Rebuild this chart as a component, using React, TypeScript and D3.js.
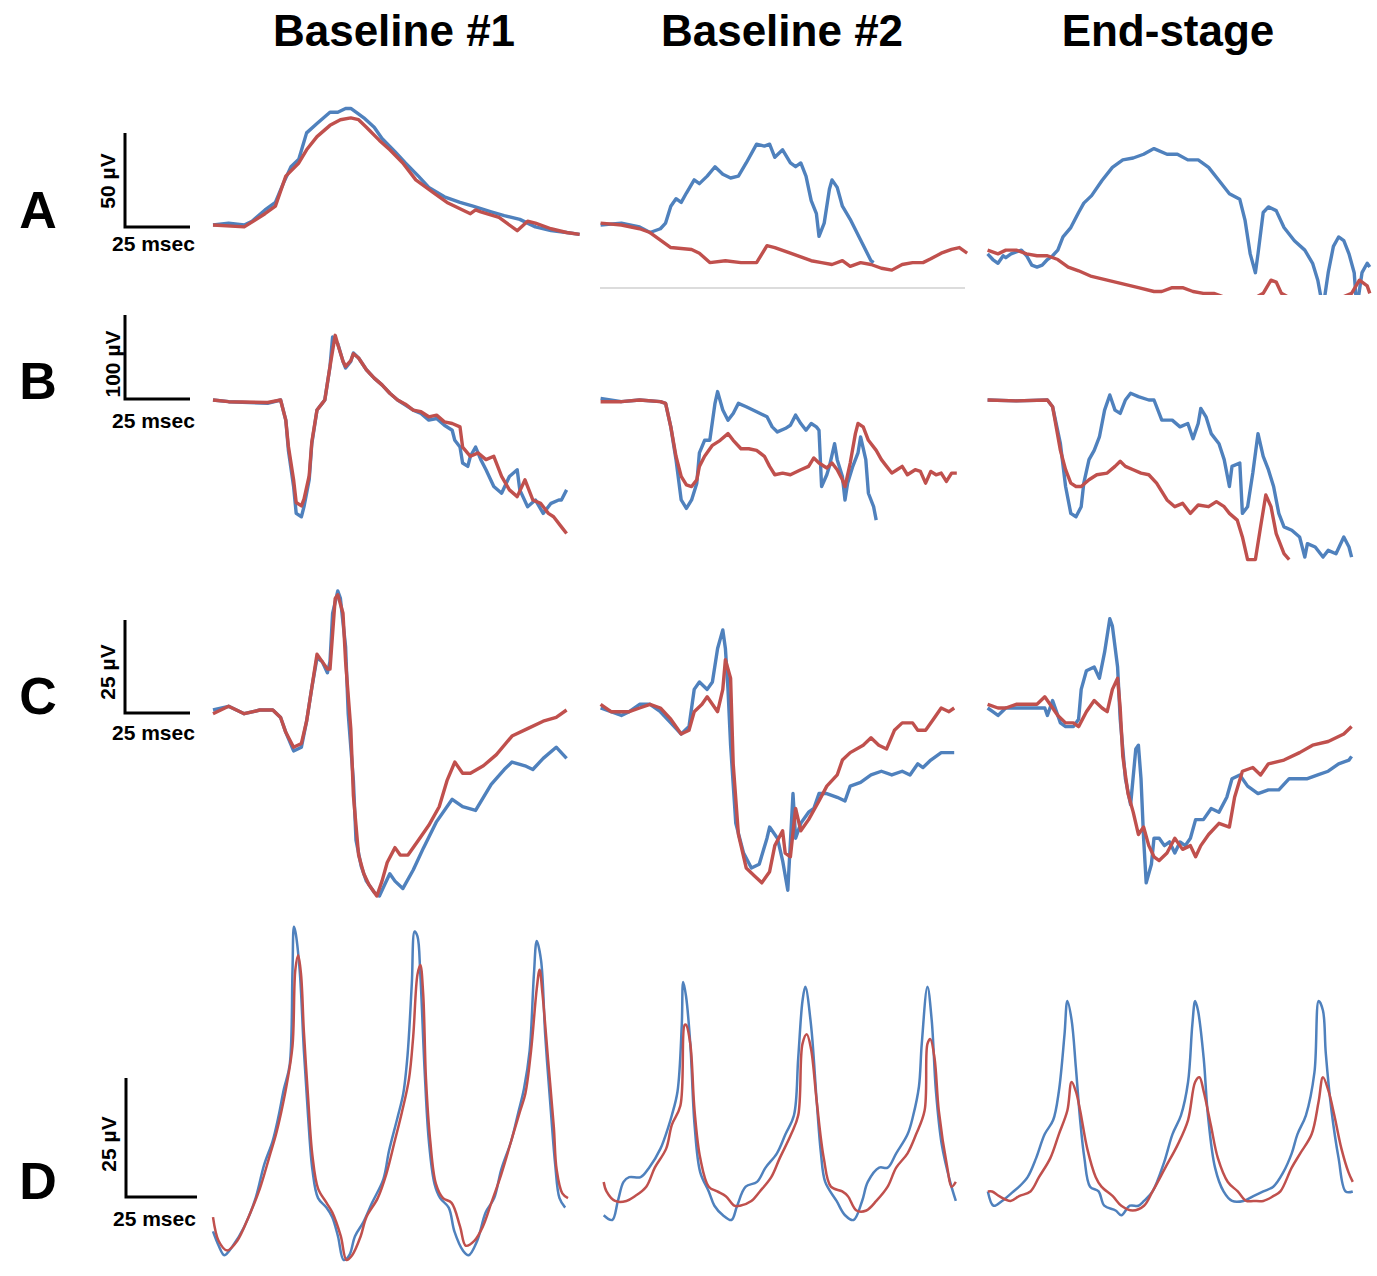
// @ts-nocheck
import React from 'react'
import * as d3 from 'd3'

// column / row labels
const columnTitles = ['Baseline #1', 'Baseline #2', 'End-stage']
const rowLetters = ['A', 'B', 'C', 'D']
const barMicroVolts = [50, 100, 25, 25]
const barMsec = 25

// traces: [time in ms, amplitude in µV]
const a1Blue = [[0,0],[6,1],[12,0],[15,2],[20,8],[24,12],[27,22],[30,31],[33,35],[36,49],[40,54],[45,60],[48,60],[51,62],[53,62],[55,60],[58,57],[62,52],[65,46],[70,39],[74,33],[79,26],[83,20],[89,15],[95,12],[100,10],[107,7],[112,5],[118,3],[124,-1],[130,-3],[136,-4],[141,-5]]
const a1Red = [[0,0],[12,-1],[20,6],[24,10],[28,26],[33,33],[36,40],[40,47],[45,53],[49,56],[53,57],[56,56],[59,52],[64,45],[68,40],[73,33],[78,24],[85,17],[90,12],[96,8],[99,6],[101,8],[103,7],[110,4],[117,-3],[121,2],[124,1],[130,-2],[136,-4],[141,-5]]
const a2Blue = [[1,0],[9,1],[16,-1],[20,-4],[24,-2],[26,1],[28,10],[30,14],[32,12],[34,17],[37,24],[39,22],[42,26],[45,31],[48,27],[51,25],[54,26],[57,33],[61,43],[64,42],[66,43],[68,36],[71,40],[74,33],[76,31],[78,33],[80,26],[82,13],[84,6],[85,-6],[87,1],[89,19],[90,24],[92,20],[94,10],[97,3],[101,-8],[105,-19],[106,-20]]
const a2Red = [[1,1],[9,0],[16,-2],[20,-4],[24,-8],[28,-12],[36,-13],[39,-15],[43,-20],[49,-19],[55,-20],[61,-20],[65,-11],[68,-12],[74,-15],[78,-17],[82,-19],[86,-20],[90,-21],[94,-19],[97,-22],[101,-20],[105,-21],[109,-23],[113,-24],[117,-21],[121,-20],[125,-20],[128,-18],[132,-15],[136,-13],[139,-12],[142,-15]]
const a3Blue = [[1,-1],[3,-4],[5,-6],[7,-2],[8,-3],[10,-1],[12,0],[14,1],[16,-2],[18,-7],[20,-8],[22,-7],[24,-4],[26,-2],[28,1],[30,8],[33,13],[36,21],[38,26],[41,30],[45,38],[49,45],[53,49],[57,50],[61,52],[65,55],[70,52],[74,52],[78,49],[82,49],[86,45],[90,38],[94,31],[98,28],[100,17],[102,-1],[104,-11],[105,-1],[107,21],[109,24],[112,22],[115,13],[119,6],[123,1],[126,-6],[128,-15],[130,-30],[132,-11],[134,3],[136,8],[138,6],[140,-1],[142,-11],[143,-30],[145,-11],[147,-6],[148,-8]]
const a3Red = [[1,1],[5,-1],[8,1],[12,1],[16,-1],[20,-2],[24,-2],[28,-4],[32,-8],[36,-10],[41,-13],[47,-15],[53,-17],[59,-19],[65,-21],[68,-21],[72,-19],[76,-19],[80,-21],[84,-22],[88,-22],[92,-24],[97,-25],[103,-25],[107,-22],[110,-15],[112,-16],[114,-22],[118,-25],[126,-26],[134,-26],[141,-22],[144,-15],[147,-18],[148,-22]]

const b1Blue = [[0,0],[6,-2],[21,-4],[26,0],[28,-24],[29,-60],[31,-103],[32,-135],[34,-139],[35,-127],[37,-95],[38,-52],[40,-12],[42,-4],[43,0],[45,40],[46,75],[48,67],[50,46],[51,38],[53,46],[54,56],[56,50],[59,36],[62,26],[65,18],[68,8],[71,0],[74,-6],[77,-12],[80,-16],[83,-24],[86,-22],[89,-30],[92,-36],[93,-48],[95,-56],[96,-75],[98,-79],[99,-67],[101,-56],[103,-71],[105,-83],[108,-103],[111,-111],[114,-91],[117,-83],[118,-107],[121,-127],[124,-119],[127,-135],[130,-123],[133,-119],[134,-119],[136,-107]]
const b1Red = [[0,0],[6,-2],[21,-3],[26,0],[28,-24],[29,-55],[31,-95],[32,-122],[34,-126],[35,-118],[37,-90],[38,-50],[40,-12],[42,-4],[43,0],[45,40],[47,77],[48,66],[50,46],[51,40],[53,47],[54,55],[56,50],[59,36],[62,26],[65,18],[68,8],[71,0],[74,-5],[77,-12],[80,-14],[83,-20],[86,-18],[89,-26],[92,-28],[95,-32],[96,-56],[99,-67],[102,-63],[105,-71],[108,-67],[111,-91],[114,-107],[117,-115],[120,-95],[123,-119],[126,-123],[129,-135],[131,-139],[134,-151],[136,-159]]
const b2Blue = [[1,2],[9,-2],[16,0],[24,-2],[26,-4],[28,-32],[30,-71],[32,-119],[34,-129],[36,-119],[38,-99],[39,-63],[41,-48],[43,-48],[45,-4],[46,10],[48,-12],[50,-24],[52,-16],[54,-4],[57,-8],[61,-14],[65,-20],[67,-32],[69,-38],[72,-34],[74,-30],[76,-18],[78,-28],[80,-36],[82,-28],[84,-32],[85,-36],[86,-103],[88,-89],[89,-79],[91,-52],[92,-71],[94,-91],[95,-119],[96,-99],[98,-79],[100,-63],[101,-44],[103,-71],[104,-111],[106,-127],[107,-143]]
const b2Red = [[1,-2],[9,-2],[16,0],[24,-2],[26,-4],[28,-32],[30,-67],[32,-91],[34,-101],[36,-103],[38,-95],[39,-79],[41,-67],[44,-54],[47,-48],[50,-40],[52,-48],[55,-58],[58,-58],[61,-60],[64,-67],[66,-79],[68,-89],[71,-87],[74,-89],[78,-83],[81,-79],[83,-69],[85,-75],[88,-81],[90,-75],[92,-83],[94,-95],[95,-103],[97,-75],[99,-40],[100,-28],[102,-32],[104,-48],[107,-60],[109,-71],[111,-79],[113,-87],[115,-83],[117,-79],[119,-89],[122,-83],[124,-85],[126,-99],[128,-85],[130,-89],[132,-87],[134,-97],[136,-87],[138,-87]]
const b3Blue = [[1,0],[12,-1],[24,0],[26,-8],[29,-52],[31,-103],[33,-135],[35,-139],[37,-127],[38,-99],[40,-71],[42,-60],[44,-44],[46,-12],[48,6],[50,-12],[52,-16],[54,0],[56,8],[59,4],[63,0],[65,0],[68,-24],[72,-24],[75,-32],[78,-28],[80,-46],[82,-28],[83,-10],[85,-20],[87,-40],[90,-52],[92,-71],[94,-103],[95,-79],[98,-75],[99,-135],[101,-127],[103,-87],[105,-40],[107,-67],[109,-83],[111,-103],[113,-135],[115,-151],[118,-155],[121,-163],[123,-187],[124,-171],[127,-175],[130,-187],[132,-179],[135,-183],[138,-163],[140,-175],[141,-187]]
const b3Red = [[1,0],[12,-1],[24,0],[26,-8],[29,-60],[31,-83],[33,-99],[35,-103],[37,-103],[40,-95],[43,-89],[47,-87],[50,-79],[52,-73],[54,-79],[57,-83],[60,-87],[63,-89],[66,-99],[70,-119],[73,-127],[76,-123],[79,-135],[82,-125],[86,-127],[89,-121],[92,-127],[94,-135],[97,-143],[99,-163],[101,-190],[104,-190],[106,-151],[108,-113],[110,-127],[112,-159],[115,-183],[117,-190]]

const c1Blue = [[0,0],[6,1],[12,-1],[18,0],[23,0],[26,-2],[28,-6],[31,-11],[34,-10],[36,-3],[38,6],[40,14],[42,13],[44,10],[45,13],[46,26],[48,32],[49,30],[51,17],[52,-1],[54,-19],[55,-35],[57,-42],[59,-46],[62,-49],[64,-50],[66,-47],[68,-44],[70,-46],[73,-48],[77,-43],[81,-37],[86,-30],[92,-24],[96,-26],[101,-27],[107,-20],[112,-16],[115,-14],[120,-15],[123,-16],[127,-13],[132,-10],[136,-13]]
const c1Red = [[0,-1],[6,1],[12,-1],[18,0],[23,0],[26,-2],[28,-6],[31,-10],[34,-9],[36,-3],[38,6],[40,15],[42,13],[44,11],[45,11],[47,30],[48,31],[50,26],[51,13],[53,-5],[54,-23],[56,-39],[58,-44],[60,-47],[63,-50],[65,-46],[67,-41],[70,-37],[72,-39],[75,-39],[79,-35],[83,-31],[87,-26],[90,-19],[93,-14],[96,-17],[99,-17],[104,-15],[109,-12],[115,-7],[121,-5],[127,-3],[132,-2],[136,0]]
const c2Blue = [[1,0],[5,-1],[9,-2],[12,-1],[16,1],[20,1],[24,-1],[28,-4],[32,-7],[35,-5],[37,5],[39,7],[42,5],[44,7],[46,16],[48,21],[49,16],[50,5],[51,-10],[53,-31],[56,-39],[59,-43],[62,-42],[65,-35],[66,-32],[69,-35],[71,-41],[73,-49],[75,-23],[76,-35],[78,-31],[81,-28],[83,-27],[85,-23],[88,-23],[92,-24],[95,-25],[97,-21],[101,-20],[105,-18],[109,-17],[113,-18],[117,-17],[120,-18],[123,-15],[125,-16],[128,-14],[132,-12],[135,-12],[137,-12]]
const c2Red = [[1,1],[5,-1],[9,-1],[12,-1],[16,0],[20,1],[24,0],[28,-3],[32,-7],[35,-6],[37,-1],[40,1],[42,3],[44,1],[46,-1],[48,5],[49,13],[51,8],[52,-15],[54,-34],[57,-43],[60,-45],[63,-47],[66,-44],[68,-37],[71,-33],[72,-39],[74,-40],[76,-27],[78,-33],[81,-30],[85,-25],[88,-21],[92,-18],[94,-14],[97,-12],[102,-10],[105,-8],[108,-10],[111,-11],[114,-6],[117,-4],[121,-4],[123,-6],[126,-6],[129,-3],[132,0],[135,-1],[137,0]]
const c3Blue = [[1,0],[3,-1],[5,-2],[8,0],[12,0],[16,0],[20,0],[23,0],[24,-2],[26,2],[29,-4],[31,-5],[34,-5],[36,-3],[37,5],[39,10],[42,11],[44,8],[46,15],[48,24],[49,22],[51,11],[52,-3],[54,-19],[56,-26],[58,-11],[59,-10],[60,-19],[61,-35],[62,-47],[64,-42],[65,-35],[67,-35],[69,-37],[71,-36],[73,-39],[75,-36],[77,-37],[79,-35],[81,-30],[84,-30],[87,-27],[90,-28],[93,-24],[95,-19],[98,-18],[101,-21],[105,-23],[109,-22],[113,-22],[117,-19],[121,-19],[124,-19],[128,-18],[132,-17],[136,-15],[140,-14],[141,-13]]
const c3Red = [[1,1],[5,0],[8,0],[12,1],[16,1],[20,1],[23,3],[25,1],[28,-2],[31,-4],[34,-4],[36,-5],[39,-1],[42,2],[45,0],[47,-1],[49,5],[51,8],[52,0],[53,-13],[55,-23],[57,-28],[59,-34],[61,-32],[63,-37],[65,-40],[67,-41],[70,-39],[73,-35],[76,-38],[79,-37],[81,-40],[83,-37],[86,-34],[90,-31],[94,-32],[96,-24],[99,-17],[103,-16],[106,-18],[109,-15],[115,-14],[121,-12],[126,-10],[132,-9],[138,-7],[141,-5]]

const d1Blue = [[0,6],[2,3],[4,1],[7,3],[11,7],[15,13],[18,20],[21,25],[23,30],[25,36],[27,41],[28,61],[28.5,70],[29,69],[30.5,61],[32,44],[33.5,30],[35,19],[37,13],[40,11],[42,9],[44,5],[46,0],[48,1],[50,5],[53,8],[56,12],[60,17],[62,23],[65,30],[67,35],[68.5,43],[70,58],[71,69],[72,68],[73,60],[74.5,40],[76,25],[78,16],[80,13],[83,11],[85,6],[88,2],[90,1],[93,4],[96,10],[99,13],[101.5,19],[105,25],[107.5,31],[109.5,36],[111.5,44],[113,60],[114,67],[115.5,63],[117,47],[119,31],[120.5,20],[122,13],[124,11]]
const d1Red = [[0,9],[2,4],[5,2],[8.5,4],[12.5,9],[16.5,15],[20,22],[22,26],[24,31],[26,37],[28,45],[29,61],[30,64],[31,60],[32,48],[33.5,34],[35,22],[37,15],[40,12],[42,10],[45,5],[47,0],[49,1],[52,5],[54,9],[58,13],[61,18],[64,25],[66.5,31],[69,38],[70.5,47],[72,60],[73,62],[74,56],[75,38],[76.5,25],[78.5,16],[81,13],[84,12],[87,7],[89,3],[92,4],[95,7],[98,12],[101.5,18],[105,25],[108,31],[110,35],[112,44],[114,57],[115,61],[116,56],[118,42],[120,28],[121,19],[123,14],[125,13]]
const d2Blue = [[2,1],[5,0],[7,4],[9,8],[11,9],[15,9],[18,11],[22,15],[25,20],[26,22],[28,27],[29.5,41],[30,50],[31,47],[32.5,37],[34,20],[36,10],[39,6],[41,3],[44,1],[47,0],[49,3],[52,7],[56,8],[59,11],[63,14],[66,18],[69,22],[70.5,34],[72,46],[73,49],[75,41],[77,25],[78.5,14],[80,8],[84,4],[87,1],[90,0],[93,4],[95,8],[99,11],[102,11],[105,14],[109,18],[111,22],[113,28],[114,37],[116,49],[117.5,42],[119,27],[121,16],[124,8],[126,4]]
const d2Red = [[2,8],[3,6],[6,4],[10,4],[13,5],[17,7],[20,11],[24,15],[26,20],[29,24],[30.5,41],[31,41],[32.5,37],[34,23],[36,13],[39,7],[42,6],[45,5],[48,3],[50,3],[54,4],[57,6],[61,9],[64,13],[68,18],[70.5,22],[72,37],[73.5,39],[75,36],[77,25],[79.5,13],[82,7],[86,6],[88,5],[91,2],[94.5,2],[98,4],[102,7],[105,11],[109,14],[112,18],[115,23],[116,37],[117,38],[118.5,34],[120,23],[123,11],[124.5,7],[126,8]]
const d3Blue = [[1,6],[3,3],[6,4],[10,6],[12,7],[15,9],[18,13],[21,18],[24,21],[26,27],[28,39],[29,46],[30.5,42],[32,32],[33.5,21],[35,13],[37,7],[40,6],[42,3],[46,2],[48,1],[51,3],[54,3],[56,4],[59,6],[63,12],[66,18],[69,22],[71.5,29],[73,41],[74,46],[75,44],[77,34],[78.5,22],[81,11],[84,6],[87,4],[91,4],[94.5,5],[98,6],[101.5,7],[105,10],[108,14],[110,18],[113,22],[116,31],[117.5,46],[119,44],[120,35],[122,23],[124.5,13],[127,6],[129.5,6]]
const d3Red = [[1,6],[2.5,6],[5,5],[9,4],[12,5],[16,6],[19,9],[23,13],[26,18],[29,23],[30.5,29],[32,27],[33.5,23],[36,15],[39,9],[41,7],[45,5],[48,3],[52,2],[56,3],[59,6],[63.5,11],[68,16],[71.5,21],[74,29],[75.5,30],[77,27],[79.5,20],[82,13],[85.5,8],[89,6],[92,4],[94.5,4],[98,4],[101.5,5],[104,6],[108,11],[111,14],[115,18],[117.5,25],[119,30],[121,27],[123,22],[125.5,15],[128,10],[129.5,8]]

const traces = [
  [[a1Blue, a1Red], [a2Blue, a2Red], [a3Blue, a3Red]],
  [[b1Blue, b1Red], [b2Blue, b2Red], [b3Blue, b3Red]],
  [[c1Blue, c1Red], [c2Blue, c2Red], [c3Blue, c3Red]],
  [[d1Blue, d1Red], [d2Blue, d2Red], [d3Blue, d3Red]],
]

const BLUE = '#4F81BD'
const RED = '#C0504D'
const FONT = 'Liberation Sans, Arial, sans-serif'

// page layout
const colX = [213, 598, 985]
const titleX = [394, 782, 1168]
const rowLayout = [
  { pxMs: 2.6, pxUV: 1.88, base: [225, 225, 252], barX: 125, barY: 227, msecY: 251, uvY: 181, uvX: 115, letterY: 228, clipY: [60, 300], lw: 3.4 },
  { pxMs: 2.6, pxUV: 0.84, base: [400, 400, 400], barX: 125, barY: 399, msecY: 428, uvY: 364, uvX: 120, letterY: 399, clipY: [300, 580], lw: 3.4 },
  { pxMs: 2.6, pxUV: 3.72, base: [710, 708, 708], barX: 125, barY: 713, msecY: 740, uvY: 672, uvX: 115, letterY: 714, clipY: [580, 900], lw: 3.4 },
  { pxMs: 2.84, pxUV: 4.76, base: [1260, 1220, 1220], barX: 126, barY: 1197, msecY: 1226, uvY: 1144, uvX: 116, letterY: 1199, clipY: [900, 1276], lw: 2.5 },
]
const clipRight = [585, 968, 1372]

const App = () => {
  return (
    <svg
      width={1377}
      height={1276}
      style={{ position: 'absolute', left: 0, top: 0, background: '#fff' }}
      fontFamily={FONT}
    >
      <defs>
        {rowLayout.map((r, ri) =>
          colX.map((x0, ci) => (
            <clipPath id={`clip-${ri}-${ci}`} key={`${ri}-${ci}`}>
              <rect
                x={x0 - 4}
                y={r.clipY[0]}
                width={clipRight[ci] - x0 + 4}
                height={(ri === 0 && ci === 2 ? 295 : r.clipY[1]) - r.clipY[0]}
              />
            </clipPath>
          ))
        )}
      </defs>

      {columnTitles.map((t, i) => (
        <text key={t} x={titleX[i]} y={46} textAnchor="middle" fontSize={44} fontWeight="bold">
          {t}
        </text>
      ))}

      {/* faint rule under Baseline #2, row A */}
      <line x1={600} x2={965} y1={288} y2={288} stroke="#dcdcdc" strokeWidth={2} />

      {rowLayout.map((r, ri) => {
        const barH = barMicroVolts[ri] * r.pxUV
        const barW = barMsec * r.pxMs
        return (
          <g key={rowLetters[ri]}>
            <text x={38} y={r.letterY} textAnchor="middle" fontSize={52} fontWeight="bold">
              {rowLetters[ri]}
            </text>
            <path
              d={`M${r.barX},${r.barY - barH}V${r.barY}H${r.barX + barW}`}
              fill="none"
              stroke="#000"
              strokeWidth={3}
            />
            <text
              transform={`translate(${r.uvX},${r.uvY}) rotate(-90)`}
              textAnchor="middle"
              fontSize={21}
              fontWeight="bold"
            >
              {`${barMicroVolts[ri]} µV`}
            </text>
            <text x={r.barX - 13} y={r.msecY} fontSize={21} fontWeight="bold">
              {`${barMsec} msec`}
            </text>

            {colX.map((x0, ci) => {
              const xScale = d3.scaleLinear().domain([0, 100]).range([x0, x0 + 100 * r.pxMs])
              const yScale = d3.scaleLinear().domain([0, 100]).range([r.base[ci], r.base[ci] - 100 * r.pxUV])
              const line = d3
                .line()
                .x((d) => xScale(d[0]))
                .y((d) => yScale(d[1]))
                .curve(ri === 3 ? d3.curveCatmullRom.alpha(0.5) : d3.curveLinear)
              const [blue, red] = traces[ri][ci]
              return (
                <g key={ci} clipPath={`url(#clip-${ri}-${ci})`}>
                  <path d={line(blue)} fill="none" stroke={BLUE} strokeWidth={r.lw} strokeLinejoin="round" />
                  <path d={line(red)} fill="none" stroke={RED} strokeWidth={r.lw} strokeLinejoin="round" />
                </g>
              )
            })}
          </g>
        )
      })}
    </svg>
  )
}

export default App
